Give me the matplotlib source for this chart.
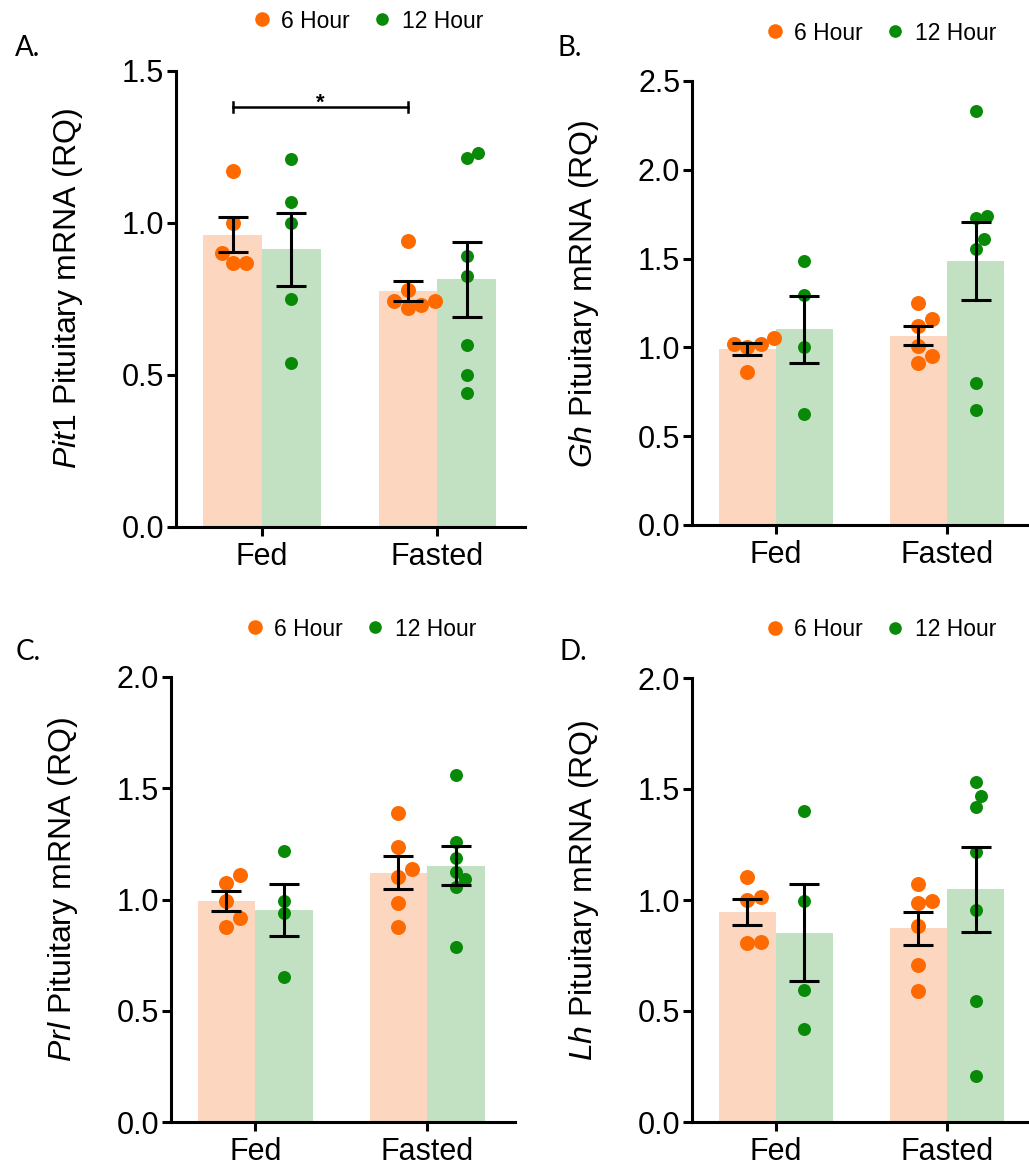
import numpy as np
import matplotlib
matplotlib.use('Agg')
import matplotlib.pyplot as plt
from matplotlib.lines import Line2D

plt.rcParams['font.family'] = ['Liberation Sans', 'DejaVu Sans']
plt.rcParams['mathtext.fontset'] = 'custom'
plt.rcParams['mathtext.it'] = 'Liberation Sans:italic'
plt.rcParams['mathtext.rm'] = 'Liberation Sans'

# ---- data ----
groups = ['Fed', 'Fasted']
series = ['6 Hour', '12 Hour']
genes = ['Pit1', 'Gh', 'Prl', 'Lh']
letters = ['A.', 'B.', 'C.', 'D.']
y_max = [1.5, 2.5, 2.0, 2.0]

pit1_fed_6h = [1.17, 1.00, 0.90, 0.87, 0.87]
pit1_fed_12h = [1.21, 1.07, 1.00, 0.75, 0.54]
pit1_fasted_6h = [0.94, 0.78, 0.745, 0.73, 0.745, 0.72]
pit1_fasted_12h = [1.23, 1.215, 0.89, 0.825, 0.60, 0.50, 0.44]

gh_fed_6h = [1.055, 1.02, 1.02, 1.00, 0.86]
gh_fed_12h = [1.485, 1.295, 1.00, 0.625]
gh_fasted_6h = [1.25, 1.16, 1.12, 1.01, 0.95, 0.91]
gh_fasted_12h = [2.33, 1.74, 1.73, 1.61, 1.555, 0.80, 0.65]

prl_fed_6h = [1.11, 1.074, 0.994, 0.915, 0.878]
prl_fed_12h = [1.22, 0.995, 0.94, 0.65]
prl_fasted_6h = [1.39, 1.235, 1.135, 1.10, 0.985, 0.875]
prl_fasted_12h = [1.56, 1.26, 1.185, 1.125, 1.09, 1.055, 0.785]

lh_fed_6h = [1.105, 1.015, 1.00, 0.81, 0.805]
lh_fed_12h = [1.40, 0.995, 0.595, 0.42]
lh_fasted_6h = [1.07, 0.995, 0.985, 0.885, 0.705, 0.59]
lh_fasted_12h = [1.53, 1.47, 1.42, 1.215, 0.955, 0.545, 0.205]

values = {
    'Pit1': [[pit1_fed_6h, pit1_fed_12h], [pit1_fasted_6h, pit1_fasted_12h]],
    'Gh': [[gh_fed_6h, gh_fed_12h], [gh_fasted_6h, gh_fasted_12h]],
    'Prl': [[prl_fed_6h, prl_fed_12h], [prl_fasted_6h, prl_fasted_12h]],
    'Lh': [[lh_fed_6h, lh_fed_12h], [lh_fasted_6h, lh_fasted_12h]],
}

# significance bar in panel A: Fed 6h vs Fasted 6h
sig_height = 1.382
sig_label = '*'

# ---- style ----
dot_colors = ['#FF6A00', '#088A08']
bar_colors = ['#FCD6BE', '#C2E0C2']
dot_px = [15, 13]
bar_w = 0.335
lw = 2.2

W, H = 1029, 1167
fig = plt.figure(figsize=(W / 100, H / 100), dpi=100)

# axes boxes in pixels: left, top, right, bottom
boxes = [(176, 71, 525, 527), (692, 81, 1029, 525),
         (171, 677, 515, 1122), (692, 678, 1029, 1122)]
x_right = [1.5, 1.48, 1.51, 1.48]
letter_pos = [(15, 55.5), (558, 55.5), (16, 660), (560, 660)]
legend_pos = [(369, 21), (882, 33), (362, 629), (882, 630)]


def swarm(ax, xc, vals, diam):
    pts = ax.transData.transform(np.column_stack([np.full(len(vals), xc), vals]))
    ys = pts[:, 1]
    px_unit = ax.transData.transform((1, 0))[0] - ax.transData.transform((0, 0))[0]
    step = diam / 4
    cands = [0.0]
    for k in range(1, 40):
        cands += [k * step, -k * step]
    placed = []
    offs = np.zeros(len(vals))
    for i in np.argsort(ys):
        for dx in cands:
            if all((dx - px) ** 2 + (ys[i] - py) ** 2 >= diam ** 2 for px, py in placed):
                break
        placed.append((dx, ys[i]))
        offs[i] = dx / px_unit
    return xc + offs


for k, gene in enumerate(genes):
    l, t, r, b = boxes[k]
    ax = fig.add_axes([l / W, 1 - b / H, (r - l) / W, (b - t) / H])
    ax.set_xlim(-0.49, x_right[k])
    ax.set_ylim(0, y_max[k])

    for g in range(len(groups)):
        for s in range(len(series)):
            vals = np.array(values[gene][g][s])
            xc = g + (s - 0.5) * bar_w
            mean = vals.mean()
            sem = vals.std(ddof=1) / np.sqrt(len(vals))
            ax.bar(xc, mean, width=bar_w, color=bar_colors[s], zorder=1)
            xs = swarm(ax, xc, vals, dot_px[s] * 0.9)
            ax.plot(xs, vals, ls='', marker='o', ms=dot_px[s] * 0.72,
                    mfc=dot_colors[s], mec='none', zorder=2, clip_on=False)
            ax.errorbar(xc, mean, yerr=sem, fmt='none', ecolor='black',
                        elinewidth=lw, capsize=11, capthick=lw, zorder=3)

    ax.set_xticks(range(len(groups)))
    ax.set_xticklabels(groups)
    ax.set_yticks(np.arange(0, y_max[k] + 0.01, 0.5))
    ax.yaxis.set_major_formatter(matplotlib.ticker.FormatStrFormatter('%.1f'))
    ax.tick_params(labelsize=22, length=6.5, width=lw, color='black')
    ax.tick_params(axis='y', pad=2)
    ax.tick_params(axis='x', pad=4)
    for side in ['top', 'right']:
        ax.spines[side].set_visible(False)
    for side in ['left', 'bottom']:
        ax.spines[side].set_linewidth(lw)

    ax.set_ylabel(r'$\mathit{' + gene + r'}$ Pituitary mRNA (RQ)', fontsize=23)
    ax.yaxis.set_label_coords(-91 / (r - l), 0.522)

    handles = [Line2D([], [], ls='', marker='o', ms=dot_px[s] * 0.7,
                      mfc=dot_colors[s], mec='none', label=series[s])
               for s in range(len(series))]
    lx, ly = legend_pos[k]
    fig.legend(handles=handles, loc='center', bbox_to_anchor=(lx / W, 1 - ly / H),
               ncol=2, frameon=False, fontsize=16.5, handlelength=0.6,
               handletextpad=0.55, columnspacing=1.1, borderpad=0)

    fx, fy = letter_pos[k]
    fig.text(fx / W, 1 - fy / H, letters[k], fontsize=20, family=['Lato', 'DejaVu Sans'],
             va='baseline', ha='left')

    if k == 0:
        x1, x2 = -0.5 * bar_w, 1 - 0.5 * bar_w
        d = 0.016
        ax.plot([x1, x2], [sig_height, sig_height], color='black', lw=1.8)
        ax.plot([x1, x1], [sig_height - d, sig_height + d], color='black', lw=1.8)
        ax.plot([x2, x2], [sig_height - d, sig_height + d], color='black', lw=1.8)
        ax.text((x1 + x2) / 2, sig_height - 0.005, sig_label, ha='center', va='baseline',
                fontsize=16, fontweight='bold')

fig.savefig('out.png', dpi=100)
